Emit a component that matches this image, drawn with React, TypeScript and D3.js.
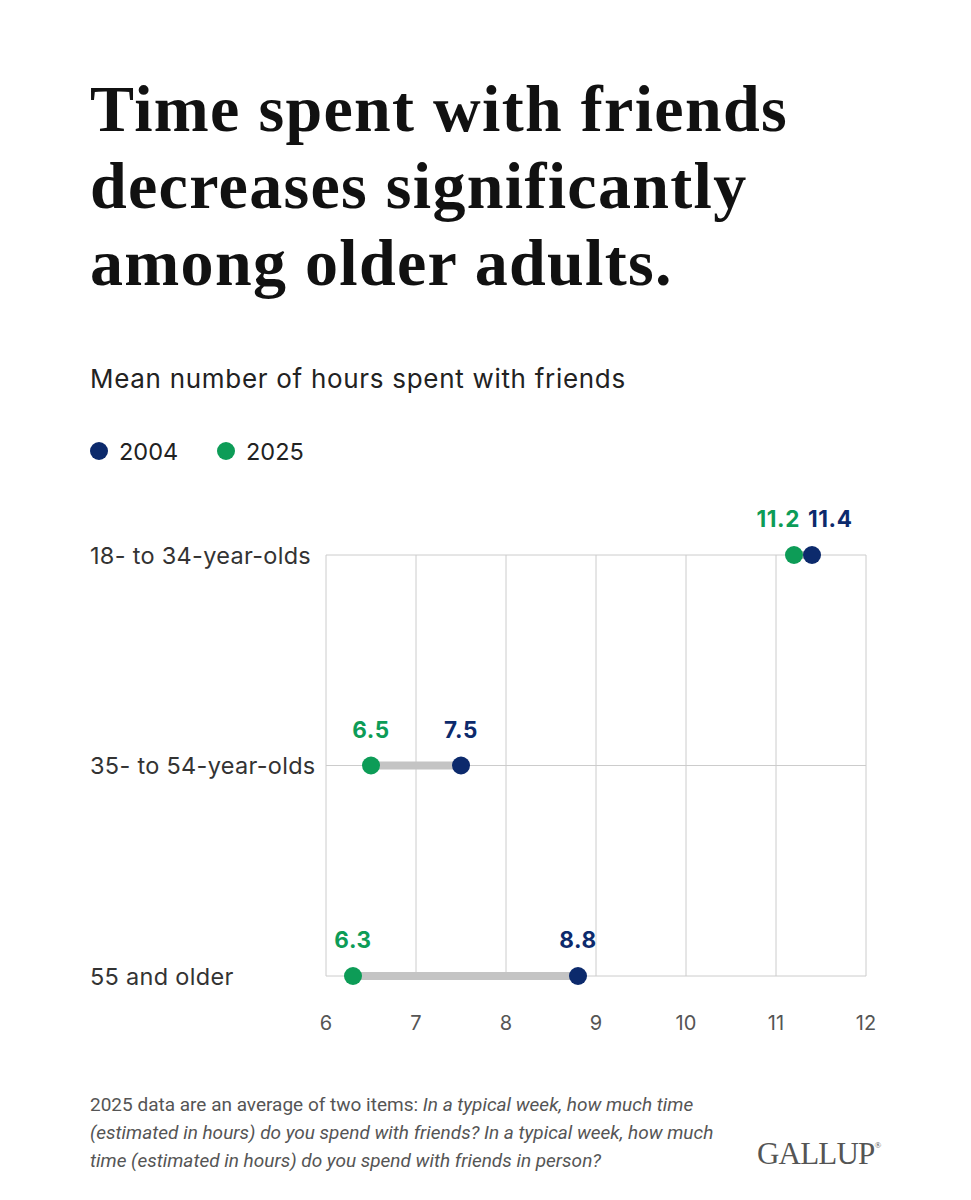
import * as d3 from 'd3'

const categories = ['18- to 34-year-olds', '35- to 54-year-olds', '55 and older']
const values2004 = [11.4, 7.5, 8.8]
const values2025 = [11.2, 6.5, 6.3]
const xTicks = [6, 7, 8, 9, 10, 11, 12]
const legendItems = ['2004', '2025']

const NAVY = '#0c2a6c'
const GREEN = '#0d9c57'
const GRID = '#cccccc'

const W = 971
const H = 1200

export default function App() {
  const x = d3.scaleLinear().domain([6, 12]).range([326, 866])
  const y = d3.scalePoint<string>().domain(categories).range([555, 976])
  const legendColor = d3.scaleOrdinal<string, string>().domain(legendItems).range([NAVY, GREEN])

  const sans = 'Inter, "Noto Sans", sans-serif'

  return (
    <svg
      width={W}
      height={H}
      viewBox={`0 0 ${W} ${H}`}
      style={{ position: 'absolute', left: 0, top: 0, background: '#fff' }}
    >
      <rect width={W} height={H} fill="#fff" />
      {/* title */}
      <g
        fontFamily='"Liberation Serif", "DejaVu Serif", serif'
        fontWeight={700}
        fontSize={66}
        letterSpacing={1.3}
        fill="#111"
      >
        <text x={90} y={131}>Time spent with friends</text>
        <text x={90} y={208}>decreases significantly</text>
        <text x={90} y={285}>among older adults.</text>
      </g>

      <text x={90} y={388} fontFamily={sans} fontSize={26} letterSpacing={0.7} fill="#222">
        Mean number of hours spent with friends
      </text>

      {/* legend */}
      {legendItems.map((d, i) => (
        <g key={d} transform={`translate(${99 + i * 127},451)`}>
          <circle r={9} fill={legendColor(d)} />
          <text x={20} y={8.5} fontFamily={sans} fontSize={23.5} fill="#222">
            {d}
          </text>
        </g>
      ))}

      {/* grid */}
      <g stroke={GRID} strokeWidth={1}>
        {xTicks.map((t) => (
          <line key={t} x1={x(t)} x2={x(t)} y1={555} y2={976} />
        ))}
        {categories.map((c) => (
          <line key={c} x1={326} x2={866} y1={y(c)} y2={y(c)} />
        ))}
      </g>

      {/* x tick labels */}
      {xTicks.map((t) => (
        <text
          key={t}
          x={x(t)}
          y={1030}
          textAnchor="middle"
          fontFamily={sans}
          fontSize={20}
          fill="#555"
        >
          {t}
        </text>
      ))}

      {/* category labels */}
      {categories.map((c) => (
        <text
          key={c}
          x={90}
          y={(y(c) ?? 0) + 8.5}
          fontFamily={sans}
          fontSize={23.5}
          letterSpacing={0.3}
          fill="#333"
        >
          {c}
        </text>
      ))}

      {/* dumbbells */}
      {categories.map((c, i) => {
        const cy = y(c) ?? 0
        const a = values2004[i]
        const b = values2025[i]
        const close = Math.abs(a - b) < 0.6
        return (
          <g key={c}>
            <line x1={x(a)} x2={x(b)} y1={cy} y2={cy} stroke="#c4c4c4" strokeWidth={8} />
            <circle cx={x(b)} cy={cy} r={9} fill={GREEN} />
            <circle cx={x(a)} cy={cy} r={9} fill={NAVY} />
            <g fontFamily={sans} fontWeight={700} fontSize={22.5} letterSpacing={0.6}>
              <text
                x={close ? x(b) + 6 : x(b)}
                y={cy - 28}
                textAnchor={close ? 'end' : 'middle'}
                fill={GREEN}
              >
                {b.toFixed(1)}
              </text>
              <text
                x={close ? x(a) - 4 : x(a)}
                y={cy - 28}
                textAnchor={close ? 'start' : 'middle'}
                fill={NAVY}
              >
                {a.toFixed(1)}
              </text>
            </g>
          </g>
        )
      })}

      {/* footnote */}
      <g fontFamily='Roboto, "Liberation Sans", sans-serif' fontSize={19} fill="#555">
        <text x={90} y={1111}>
          2025 data are an average of two items: <tspan fontStyle="italic">In a typical week, how much time</tspan>
        </text>
        <text x={90} y={1139} fontStyle="italic">
          (estimated in hours) do you spend with friends? In a typical week, how much
        </text>
        <text x={90} y={1167} fontStyle="italic">
          time (estimated in hours) do you spend with friends in person?
        </text>
      </g>

      {/* logo */}
      <text
        x={757}
        y={1164}
        fontFamily='"Liberation Serif", serif'
        fontSize={31}
        fill="#555"
        letterSpacing={-0.8}
      >
        GALLUP
        <tspan fontSize={9} dy={-16}>
          ®
        </tspan>
      </text>
    </svg>
  )
}
